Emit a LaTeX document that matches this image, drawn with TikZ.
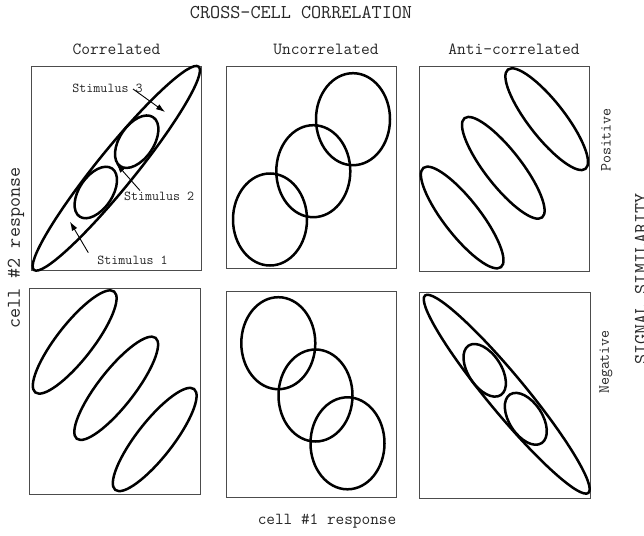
\documentclass[tikz,border=0pt]{standalone}
\usetikzlibrary{arrows.meta}
\begin{document}
\begin{tikzpicture}[x=1pt,y=-1pt,
  panel/.style={draw=black!70,line width=1pt},
  curve/.style={draw=black,line width=2.5pt},
  pointer/.style={draw=black,line width=0.9pt,-{Latex[length=9pt,width=6pt]}},
  txt/.style={inner sep=0pt,text=black!85},
  title/.style={txt,font=\fontsize{19.6}{22}\selectfont\ttfamily},
  head/.style={txt,font=\fontsize{17}{20}\selectfont\ttfamily},
  axis/.style={txt,font=\fontsize{16.8}{20}\selectfont\ttfamily},
  outer/.style={txt,font=\fontsize{19.5}{22}\selectfont\ttfamily},
  side/.style={txt,font=\fontsize{15.5}{18}\selectfont\ttfamily},
  stim/.style={txt,font=\fontsize{13.6}{16}\selectfont\ttfamily}]
\clip (0,0) rectangle (644,535);
\fill[white] (0,0) rectangle (644,535);

% panels
\draw[panel] (31,66) rectangle (201,270);
\draw[panel] (226,66) rectangle (396,268);
\draw[panel] (419,66) rectangle (589,271);
\draw[panel] (29,288) rectangle (200,494);
\draw[panel] (226,291) rectangle (396,497);
\draw[panel] (419,292) rectangle (590,498);

% panel 1: correlated, positive
\draw[curve, rotate around={51:(116.3,168.3)}] (116.3,168.3) ellipse [x radius=130.8, y radius=19];
\draw[curve, rotate around={56:(95.8,192.5)}] (95.8,192.5) ellipse [x radius=29, y radius=16.5];
\draw[curve, rotate around={56:(136.7,141.7)}] (136.7,141.7) ellipse [x radius=29.5, y radius=17];

% panel 2: uncorrelated, positive
\draw[curve] (270,219.5) ellipse [x radius=37, y radius=46];
\draw[curve] (313.3,171.2) ellipse [x radius=37, y radius=46];
\draw[curve] (353,119.2) ellipse [x radius=37, y radius=46];

% panel 3: anti-correlated, positive
\draw[curve, rotate around={-52:(462.2,217.5)}] (462.2,217.5) ellipse [x radius=63, y radius=18];
\draw[curve, rotate around={-52:(503.3,167.8)}] (503.3,167.8) ellipse [x radius=63, y radius=18];
\draw[curve, rotate around={-52:(546.7,119.2)}] (546.7,119.2) ellipse [x radius=63, y radius=18];

% panel 4: correlated, negative
\draw[curve, rotate around={52:(74.7,342)}] (74.7,342) ellipse [x radius=64, y radius=18];
\draw[curve, rotate around={52:(116.2,388.3)}] (116.2,388.3) ellipse [x radius=64, y radius=18];
\draw[curve, rotate around={52:(154.7,439.5)}] (154.7,439.5) ellipse [x radius=64, y radius=18];

% panel 5: uncorrelated, negative
\draw[curve] (278.3,343.2) ellipse [x radius=37, y radius=46];
\draw[curve] (315.5,395.5) ellipse [x radius=37, y radius=46];
\draw[curve] (347.5,443.3) ellipse [x radius=37, y radius=46];

% panel 6: anti-correlated, negative
\draw[curve, rotate around={-50.4:(506.7,394.2)}] (506.7,394.2) ellipse [x radius=128.1, y radius=19];
\draw[curve, rotate around={-57:(484.7,370.3)}] (484.7,370.3) ellipse [x radius=29.5, y radius=16.5];
\draw[curve, rotate around={-57:(525.8,418.8)}] (525.8,418.8) ellipse [x radius=29, y radius=16.5];

% texts
\node[title] (ttl) at (301,12.5) {CROSS-CELL CORRELATION};
\node[head] (h1) at (116.5,49) {Correlated};
\node[head] (h2) at (326,49) {Uncorrelated};
\node[head] (h3) at (514,49) {Anti-correlated};
\node[axis] (xl) at (327,521) {cell \#1 response};
\node[outer, rotate=90] (yl) at (16,248) {cell \#2 response};
\node[side, rotate=90] (pos) at (606,140) {Positive};
\node[side, rotate=90] (neg) at (606,362) {Negative};
\node[outer, rotate=90, anchor=base] (sig) at (647,279) {SIGNAL SIMILARITY};

\node[stim] (st3) at (107.5,88.3) {Stimulus 3};
\node[stim] (st2) at (159.2,196.7) {Stimulus 2};
\node[stim] (st1) at (132.5,260) {Stimulus 1};

\coordinate (a3) at (133,89);
\coordinate (b3) at (165,112);
\coordinate (a2) at (140,190.5);
\coordinate (b2) at (116.5,164);
\coordinate (a1) at (88.3,252.7);
\coordinate (b1) at (70,221.7);
\draw[pointer] (a3) -- (b3);
\draw[pointer] (a2) -- (b2);
\draw[pointer] (a1) -- (b1);
\end{tikzpicture}
\end{document}
